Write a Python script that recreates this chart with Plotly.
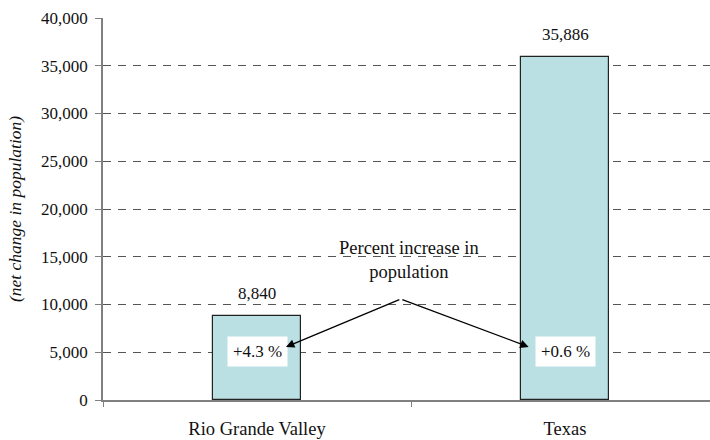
import plotly.graph_objects as go

# Net change in population by region
regions = ["Rio Grande Valley", "Texas"]
net_change = [8840, 35886]
pct_increase = ["+4.3 %", "+0.6 %"]
y_ticks = [0, 5000, 10000, 15000, 20000, 25000, 30000, 35000, 40000]

SERIF = "Liberation Serif"
INK = "#111111"

fig = go.Figure()
fig.add_trace(go.Bar(
    x=regions,
    y=net_change,
    width=0.286,
    marker=dict(color="#BBE0E3", line=dict(color="#222222", width=1.2)),
    hoverinfo="skip",
))

annotations = []
# value labels above bars
for i, v in enumerate(net_change):
    annotations.append(dict(
        x=i, y=v, xref="x", yref="y", text=f"{v:,}", showarrow=False,
        yanchor="bottom", yshift=11, font=dict(family=SERIF, size=17, color=INK),
    ))

# percent-increase boxes inside bars
box_y = 5030
for i, p in enumerate(pct_increase):
    annotations.append(dict(
        x=i, y=box_y, xref="x", yref="y", text=p, showarrow=False,
        bgcolor="white", borderpad=5, font=dict(family=SERIF, size=17, color=INK),
    ))

# callout text
annotations.append(dict(
    x=0.4935, y=14660, xref="x", yref="y",
    text="Percent increase in<br>population", showarrow=False,
    font=dict(family=SERIF, size=18.5, color=INK), align="center",
))

# arrows from the callout apex to each box
apex = (0.467, 10580)
for hx in (0.094, 0.882):
    annotations.append(dict(
        x=hx, y=5560, xref="x", yref="y", ax=apex[0], ay=apex[1],
        axref="x", ayref="y", text="", showarrow=True,
        arrowhead=2, arrowsize=1.3, arrowwidth=1.3, arrowcolor="#000000",
        standoff=0, startstandoff=0,
    ))

fig.update_layout(
    width=710, height=440,
    margin=dict(l=103, r=0, t=18, b=40),
    paper_bgcolor="white", plot_bgcolor="white",
    showlegend=False, bargap=0,
    font=dict(family=SERIF, size=17, color=INK),
    annotations=annotations,
)
fig.update_xaxes(
    range=[-0.5, 1.4708],
    showline=True, linecolor="#808080", linewidth=1.5,
    ticks="outside", tickson="boundaries", ticklen=5, tickcolor="#808080",
    showgrid=False, tickfont=dict(family=SERIF, size=18.5, color=INK),
    ticklabelstandoff=11,
)
fig.update_yaxes(
    range=[0, 40000], tickvals=y_ticks, tickformat=",",
    showline=True, linecolor="#808080", linewidth=1.5,
    ticks="outside", ticklen=6, tickcolor="#808080",
    showgrid=True, gridcolor="#555555", gridwidth=1, griddash="8px,7px",
    zeroline=False,
    tickfont=dict(family=SERIF, size=17, color=INK),
    ticklabelstandoff=4,
    title=dict(text="(net change in population)", standoff=15,
               font=dict(family=SERIF, size=17.5, style="italic", color=INK)),
)

fig.write_html("out.html")
